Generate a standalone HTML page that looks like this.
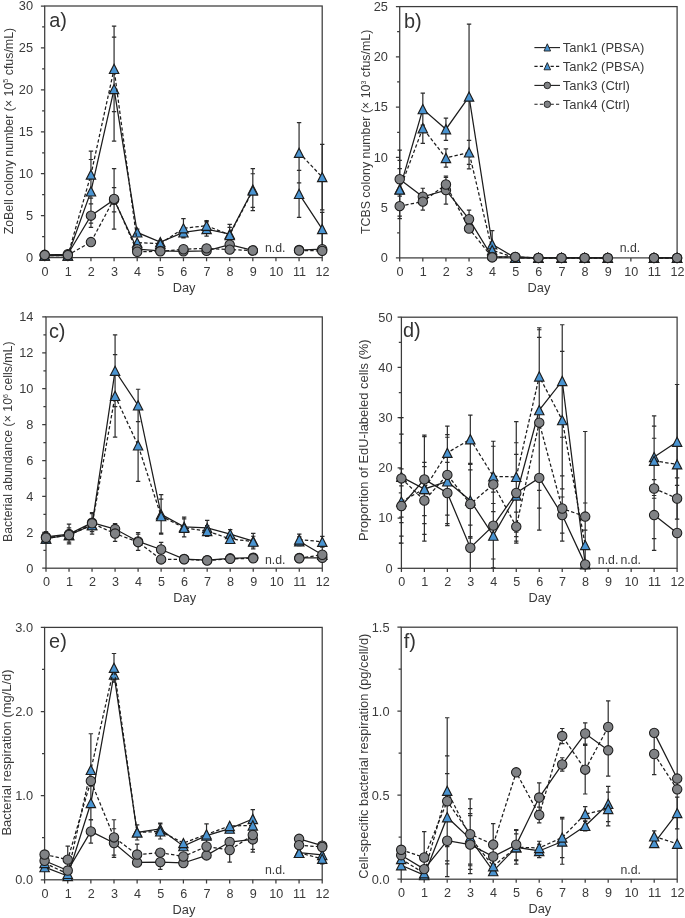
<!DOCTYPE html>
<html lang="en">
<head>
<meta charset="utf-8">
<title>Figure: bacterial dynamics in PBSA and control tanks</title>
<style>
html,body{margin:0;padding:0;background:#ffffff;}
body{width:685px;height:918px;overflow:hidden;font-family:"Liberation Sans",sans-serif;}
svg{display:block;will-change:transform;}
svg text{font-family:"Liberation Sans",sans-serif;}
</style>
</head>
<body>
<svg width="685" height="918" viewBox="0 0 685 918">
<g id="panel-a">
<g fill="none" stroke="#3c3c3c" stroke-width="1.25">
<rect x="44.7" y="6" width="277.5" height="251.6"/>
<path d="M44.7 257.6v3.6M67.83 257.6v3.6M90.95 257.6v3.6M114.08 257.6v3.6M137.2 257.6v3.6M160.32 257.6v3.6M183.45 257.6v3.6M206.57 257.6v3.6M229.7 257.6v3.6M252.82 257.6v3.6M275.95 257.6v3.6M299.07 257.6v3.6M322.2 257.6v3.6M44.7 257.6h-3.8M44.7 236.63h-2.6M44.7 215.67h-3.8M44.7 194.7h-2.6M44.7 173.73h-3.8M44.7 152.77h-2.6M44.7 131.8h-3.8M44.7 110.83h-2.6M44.7 89.87h-3.8M44.7 68.9h-2.6M44.7 47.93h-3.8M44.7 26.97h-2.6M44.7 6h-3.8"/>
</g>
<g fill="#3a3a3a" font-size="12.8">
<text transform="translate(45.1 275.6) scale(1 1.06)" text-anchor="middle" font-size="12.6">0</text>
<text transform="translate(68.23 275.6) scale(1 1.06)" text-anchor="middle" font-size="12.6">1</text>
<text transform="translate(91.35 275.6) scale(1 1.06)" text-anchor="middle" font-size="12.6">2</text>
<text transform="translate(114.48 275.6) scale(1 1.06)" text-anchor="middle" font-size="12.6">3</text>
<text transform="translate(137.6 275.6) scale(1 1.06)" text-anchor="middle" font-size="12.6">4</text>
<text transform="translate(160.72 275.6) scale(1 1.06)" text-anchor="middle" font-size="12.6">5</text>
<text transform="translate(183.85 275.6) scale(1 1.06)" text-anchor="middle" font-size="12.6">6</text>
<text transform="translate(206.97 275.6) scale(1 1.06)" text-anchor="middle" font-size="12.6">7</text>
<text transform="translate(230.1 275.6) scale(1 1.06)" text-anchor="middle" font-size="12.6">8</text>
<text transform="translate(253.22 275.6) scale(1 1.06)" text-anchor="middle" font-size="12.6">9</text>
<text transform="translate(276.35 275.6) scale(1 1.06)" text-anchor="middle" font-size="12.6">10</text>
<text transform="translate(299.47 275.6) scale(1 1.06)" text-anchor="middle" font-size="12.6">11</text>
<text transform="translate(322.6 275.6) scale(1 1.06)" text-anchor="middle" font-size="12.6">12</text>
<text x="184.05" y="291.5" text-anchor="middle">Day</text>
<text transform="translate(33 261.9) scale(1 1.06)" text-anchor="end">0</text>
<text transform="translate(33 219.97) scale(1 1.06)" text-anchor="end">5</text>
<text transform="translate(33 178.03) scale(1 1.06)" text-anchor="end">10</text>
<text transform="translate(33 136.1) scale(1 1.06)" text-anchor="end">15</text>
<text transform="translate(33 94.17) scale(1 1.06)" text-anchor="end">20</text>
<text transform="translate(33 52.23) scale(1 1.06)" text-anchor="end">25</text>
<text transform="translate(33 10.3) scale(1 1.06)" text-anchor="end">30</text>
<text transform="translate(12.5 131.1) rotate(-90)" text-anchor="middle" font-size="12.38">ZoBell colony number (× 10<tspan font-size="7.0" dy="-4.6">5</tspan><tspan dy="4.6" font-size="0.1"> </tspan><tspan> cfus/mL)</tspan></text>
<text x="49.2" y="27.3" font-size="19.9" fill="#333333">a)</text>
<text x="265" y="251.8" font-size="12.3">n.d.</text>
</g>
<path d="M90.95 159.48V223.21M88.75 159.48h4.4M88.75 223.21h4.4M114.08 37.03V141.03M111.88 37.03h4.4M111.88 141.03h4.4M137.2 229.09V235.79M135 229.09h4.4M135 235.79h4.4M183.45 227.41V237.47M181.25 227.41h4.4M181.25 237.47h4.4M206.57 221.96V236.21M204.38 221.96h4.4M204.38 236.21h4.4M229.7 224.47V243.76M227.5 224.47h4.4M227.5 243.76h4.4M252.82 168.7V210.63M250.62 168.7h4.4M250.62 210.63h4.4M299.07 170.38V217.34M296.88 170.38h4.4M296.88 217.34h4.4M322.2 212.31V245.86M320 212.31h4.4M320 245.86h4.4M90.95 151.09V198.05M88.75 151.09h4.4M88.75 198.05h4.4M114.08 26.13V111.67M111.88 26.13h4.4M111.88 111.67h4.4M183.45 218.6V237.89M181.25 218.6h4.4M181.25 237.89h4.4M206.57 220.7V230.76M204.38 220.7h4.4M204.38 230.76h4.4M229.7 227.41V242.5M227.5 227.41h4.4M227.5 242.5h4.4M252.82 173.73V207.28M250.62 173.73h4.4M250.62 207.28h4.4M299.07 122.57V182.96M296.88 122.57h4.4M296.88 182.96h4.4M322.2 144.38V209.8M320 144.38h4.4M320 209.8h4.4M90.95 203.93V227.41M88.75 203.93h4.4M88.75 227.41h4.4M114.08 187.57V211.89M111.88 187.57h4.4M111.88 211.89h4.4M114.08 168.7V229.09M111.88 168.7h4.4M111.88 229.09h4.4" fill="none" stroke="#2c2c2c" stroke-width="1.2"/>
<path d="M44.7 255.5L67.83 255.5L90.95 191.35L114.08 89.03L137.2 232.44L160.32 242.08L183.45 232.44L206.57 229.09L229.7 234.12L252.82 189.67M299.07 193.86L322.2 229.09" fill="none" stroke="#1c1c1c" stroke-width="1.25"/>
<g fill="#4a94d1" stroke="#1c1c1c" stroke-width="1.15">
<path d="M44.7 250.9L49.4 260.1L40 260.1Z"/>
<path d="M67.83 250.9L72.53 260.1L63.12 260.1Z"/>
<path d="M90.95 186.75L95.65 195.95L86.25 195.95Z"/>
<path d="M114.08 84.43L118.78 93.63L109.38 93.63Z"/>
<path d="M137.2 227.84L141.9 237.04L132.5 237.04Z"/>
<path d="M160.32 237.48L165.02 246.68L155.62 246.68Z"/>
<path d="M183.45 227.84L188.15 237.04L178.75 237.04Z"/>
<path d="M206.57 224.49L211.27 233.69L201.88 233.69Z"/>
<path d="M229.7 229.52L234.4 238.72L225 238.72Z"/>
<path d="M252.82 185.07L257.52 194.27L248.12 194.27Z"/>
<path d="M299.07 189.26L303.77 198.46L294.38 198.46Z"/>
<path d="M322.2 224.49L326.9 233.69L317.5 233.69Z"/>
</g>
<path d="M44.7 255.5L67.83 255.5L90.95 174.57L114.08 68.9L137.2 242.5L160.32 243.76L183.45 228.25L206.57 225.73L229.7 234.96L252.82 190.51M299.07 152.77L322.2 177.09" fill="none" stroke="#1c1c1c" stroke-width="1.25" stroke-dasharray="3.4 2.2"/>
<g fill="#4a94d1" stroke="#1c1c1c" stroke-width="1.15">
<path d="M44.7 250.9L49.4 260.1L40 260.1Z"/>
<path d="M67.83 250.9L72.53 260.1L63.12 260.1Z"/>
<path d="M90.95 169.97L95.65 179.17L86.25 179.17Z"/>
<path d="M114.08 64.3L118.78 73.5L109.38 73.5Z"/>
<path d="M137.2 237.9L141.9 247.1L132.5 247.1Z"/>
<path d="M160.32 239.16L165.02 248.36L155.62 248.36Z"/>
<path d="M183.45 223.65L188.15 232.85L178.75 232.85Z"/>
<path d="M206.57 221.13L211.27 230.33L201.88 230.33Z"/>
<path d="M229.7 230.36L234.4 239.56L225 239.56Z"/>
<path d="M252.82 185.91L257.52 195.11L248.12 195.11Z"/>
<path d="M299.07 148.17L303.77 157.37L294.38 157.37Z"/>
<path d="M322.2 172.49L326.9 181.69L317.5 181.69Z"/>
</g>
<path d="M44.7 254.83L67.83 254.25L90.95 215.67L114.08 199.73L137.2 249.21L160.32 250.89L183.45 251.31L206.57 250.89L229.7 244.6L252.82 250.47M299.07 250.05L322.2 249.21" fill="none" stroke="#1c1c1c" stroke-width="1.25"/>
<g fill="#808285" stroke="#1c1c1c" stroke-width="1.05">
<circle cx="44.7" cy="254.83" r="4.7"/>
<circle cx="67.83" cy="254.25" r="4.7"/>
<circle cx="90.95" cy="215.67" r="4.7"/>
<circle cx="114.08" cy="199.73" r="4.7"/>
<circle cx="137.2" cy="249.21" r="4.7"/>
<circle cx="160.32" cy="250.89" r="4.7"/>
<circle cx="183.45" cy="251.31" r="4.7"/>
<circle cx="206.57" cy="250.89" r="4.7"/>
<circle cx="229.7" cy="244.6" r="4.7"/>
<circle cx="252.82" cy="250.47" r="4.7"/>
<circle cx="299.07" cy="250.05" r="4.7"/>
<circle cx="322.2" cy="249.21" r="4.7"/>
</g>
<path d="M44.7 255.08L67.83 255.08L90.95 242.08L114.08 198.89L137.2 251.73L160.32 251.31L183.45 249.21L206.57 248.37L229.7 249.63L252.82 250.47M299.07 250.47L322.2 250.89" fill="none" stroke="#1c1c1c" stroke-width="1.25" stroke-dasharray="3.4 2.2"/>
<g fill="#808285" stroke="#1c1c1c" stroke-width="1.05">
<circle cx="44.7" cy="255.08" r="4.7"/>
<circle cx="67.83" cy="255.08" r="4.7"/>
<circle cx="90.95" cy="242.08" r="4.7"/>
<circle cx="114.08" cy="198.89" r="4.7"/>
<circle cx="137.2" cy="251.73" r="4.7"/>
<circle cx="160.32" cy="251.31" r="4.7"/>
<circle cx="183.45" cy="249.21" r="4.7"/>
<circle cx="206.57" cy="248.37" r="4.7"/>
<circle cx="229.7" cy="249.63" r="4.7"/>
<circle cx="252.82" cy="250.47" r="4.7"/>
<circle cx="299.07" cy="250.47" r="4.7"/>
<circle cx="322.2" cy="250.89" r="4.7"/>
</g>
</g>
<g id="panel-b">
<g fill="none" stroke="#3c3c3c" stroke-width="1.25">
<rect x="399.7" y="6.6" width="277.4" height="251.3"/>
<path d="M399.7 257.9v3.6M422.82 257.9v3.6M445.93 257.9v3.6M469.05 257.9v3.6M492.17 257.9v3.6M515.28 257.9v3.6M538.4 257.9v3.6M561.52 257.9v3.6M584.63 257.9v3.6M607.75 257.9v3.6M630.87 257.9v3.6M653.98 257.9v3.6M677.1 257.9v3.6M399.7 257.9h-3.8M399.7 232.77h-2.6M399.7 207.64h-3.8M399.7 182.51h-2.6M399.7 157.38h-3.8M399.7 132.25h-2.6M399.7 107.12h-3.8M399.7 81.99h-2.6M399.7 56.86h-3.8M399.7 31.73h-2.6M399.7 6.6h-3.8"/>
</g>
<g fill="#3a3a3a" font-size="12.8">
<text transform="translate(400.1 275.9) scale(1 1.06)" text-anchor="middle" font-size="12.6">0</text>
<text transform="translate(423.22 275.9) scale(1 1.06)" text-anchor="middle" font-size="12.6">1</text>
<text transform="translate(446.33 275.9) scale(1 1.06)" text-anchor="middle" font-size="12.6">2</text>
<text transform="translate(469.45 275.9) scale(1 1.06)" text-anchor="middle" font-size="12.6">3</text>
<text transform="translate(492.57 275.9) scale(1 1.06)" text-anchor="middle" font-size="12.6">4</text>
<text transform="translate(515.68 275.9) scale(1 1.06)" text-anchor="middle" font-size="12.6">5</text>
<text transform="translate(538.8 275.9) scale(1 1.06)" text-anchor="middle" font-size="12.6">6</text>
<text transform="translate(561.92 275.9) scale(1 1.06)" text-anchor="middle" font-size="12.6">7</text>
<text transform="translate(585.03 275.9) scale(1 1.06)" text-anchor="middle" font-size="12.6">8</text>
<text transform="translate(608.15 275.9) scale(1 1.06)" text-anchor="middle" font-size="12.6">9</text>
<text transform="translate(631.27 275.9) scale(1 1.06)" text-anchor="middle" font-size="12.6">10</text>
<text transform="translate(654.38 275.9) scale(1 1.06)" text-anchor="middle" font-size="12.6">11</text>
<text transform="translate(677.5 275.9) scale(1 1.06)" text-anchor="middle" font-size="12.6">12</text>
<text x="539" y="291.8" text-anchor="middle">Day</text>
<text transform="translate(387.9 262.2) scale(1 1.06)" text-anchor="end">0</text>
<text transform="translate(387.9 211.94) scale(1 1.06)" text-anchor="end">5</text>
<text transform="translate(387.9 161.68) scale(1 1.06)" text-anchor="end">10</text>
<text transform="translate(387.9 111.42) scale(1 1.06)" text-anchor="end">15</text>
<text transform="translate(387.9 61.16) scale(1 1.06)" text-anchor="end">20</text>
<text transform="translate(387.9 10.9) scale(1 1.06)" text-anchor="end">25</text>
<text transform="translate(370.2 131.9) rotate(-90)" text-anchor="middle" font-size="12.38">TCBS colony number (× 10<tspan font-size="7.0" dy="-4.6">3</tspan><tspan dy="4.6" font-size="0.1"> </tspan><tspan> cfus/mL)</tspan></text>
<text x="403.9" y="27.5" font-size="19.9" fill="#333333">b)</text>
<text x="619.7" y="251.6" font-size="12.3">n.d.</text>
</g>
<path d="M399.7 168.54V209.75M397.5 168.54h4.4M397.5 209.75h4.4M422.82 93.05V125.21M420.62 93.05h4.4M420.62 125.21h4.4M445.93 118.18V140.29M443.73 118.18h4.4M443.73 140.29h4.4M469.05 24.19V168.94M466.85 24.19h4.4M466.85 168.94h4.4M492.17 230.66V257.8M489.97 230.66h4.4M489.97 257.8h4.4M399.7 160.4V218.7M397.5 160.4h4.4M397.5 218.7h4.4M422.82 113.15V143.31M420.62 113.15h4.4M420.62 143.31h4.4M445.93 148.94V167.03M443.73 148.94h4.4M443.73 167.03h4.4M469.05 140.29V164.42M466.85 140.29h4.4M466.85 164.42h4.4M399.7 150.04V208.34M397.5 150.04h4.4M397.5 208.34h4.4M422.82 188.24V205.33M420.62 188.24h4.4M420.62 205.33h4.4M445.93 176.08V204.22M443.73 176.08h4.4M443.73 204.22h4.4M469.05 210.15V228.25M466.85 210.15h4.4M466.85 228.25h4.4M399.7 196.08V216.18M397.5 196.08h4.4M397.5 216.18h4.4M422.82 193.06V210.15M420.62 193.06h4.4M420.62 210.15h4.4M445.93 177.48V191.56M443.73 177.48h4.4M443.73 191.56h4.4" fill="none" stroke="#2c2c2c" stroke-width="1.2"/>
<path d="M399.7 189.14L422.82 109.13L445.93 129.23L469.05 96.57L492.17 244.23L515.28 257.9L538.4 257.9L561.52 257.9L584.63 257.9L607.75 257.9M653.98 257.9L677.1 257.9" fill="none" stroke="#1c1c1c" stroke-width="1.25"/>
<g fill="#4a94d1" stroke="#1c1c1c" stroke-width="1.15">
<path d="M399.7 184.54L404.4 193.74L395 193.74Z"/>
<path d="M422.82 104.53L427.52 113.73L418.12 113.73Z"/>
<path d="M445.93 124.63L450.63 133.83L441.23 133.83Z"/>
<path d="M469.05 91.97L473.75 101.17L464.35 101.17Z"/>
<path d="M492.17 239.63L496.87 248.83L487.47 248.83Z"/>
<path d="M515.28 253.3L519.98 262.5L510.58 262.5Z"/>
<path d="M538.4 253.3L543.1 262.5L533.7 262.5Z"/>
<path d="M561.52 253.3L566.22 262.5L556.82 262.5Z"/>
<path d="M584.63 253.3L589.33 262.5L579.93 262.5Z"/>
<path d="M607.75 253.3L612.45 262.5L603.05 262.5Z"/>
<path d="M653.98 253.3L658.68 262.5L649.28 262.5Z"/>
<path d="M677.1 253.3L681.8 262.5L672.4 262.5Z"/>
</g>
<path d="M399.7 189.55L422.82 128.23L445.93 157.98L469.05 152.35L492.17 250.16L515.28 257.9L538.4 257.9L561.52 257.9L584.63 257.9L607.75 257.9M653.98 257.9L677.1 257.9" fill="none" stroke="#1c1c1c" stroke-width="1.25" stroke-dasharray="3.4 2.2"/>
<g fill="#4a94d1" stroke="#1c1c1c" stroke-width="1.15">
<path d="M399.7 184.95L404.4 194.15L395 194.15Z"/>
<path d="M422.82 123.63L427.52 132.83L418.12 132.83Z"/>
<path d="M445.93 153.38L450.63 162.58L441.23 162.58Z"/>
<path d="M469.05 147.75L473.75 156.95L464.35 156.95Z"/>
<path d="M492.17 245.56L496.87 254.76L487.47 254.76Z"/>
<path d="M515.28 253.3L519.98 262.5L510.58 262.5Z"/>
<path d="M538.4 253.3L543.1 262.5L533.7 262.5Z"/>
<path d="M561.52 253.3L566.22 262.5L556.82 262.5Z"/>
<path d="M584.63 253.3L589.33 262.5L579.93 262.5Z"/>
<path d="M607.75 253.3L612.45 262.5L603.05 262.5Z"/>
<path d="M653.98 253.3L658.68 262.5L649.28 262.5Z"/>
<path d="M677.1 253.3L681.8 262.5L672.4 262.5Z"/>
</g>
<path d="M399.7 179.19L422.82 196.78L445.93 190.15L469.05 219.2L492.17 256.89L515.28 256.89L538.4 257.9L561.52 257.9L584.63 257.9L607.75 257.9M653.98 257.9L677.1 257.9" fill="none" stroke="#1c1c1c" stroke-width="1.25"/>
<g fill="#808285" stroke="#1c1c1c" stroke-width="1.05">
<circle cx="399.7" cy="179.19" r="4.7"/>
<circle cx="422.82" cy="196.78" r="4.7"/>
<circle cx="445.93" cy="190.15" r="4.7"/>
<circle cx="469.05" cy="219.2" r="4.7"/>
<circle cx="492.17" cy="256.89" r="4.7"/>
<circle cx="515.28" cy="256.89" r="4.7"/>
<circle cx="538.4" cy="257.9" r="4.7"/>
<circle cx="561.52" cy="257.9" r="4.7"/>
<circle cx="584.63" cy="257.9" r="4.7"/>
<circle cx="607.75" cy="257.9" r="4.7"/>
<circle cx="653.98" cy="257.9" r="4.7"/>
<circle cx="677.1" cy="257.9" r="4.7"/>
</g>
<path d="M399.7 206.13L422.82 201.61L445.93 184.52L469.05 228.55L492.17 257.4L515.28 256.89L538.4 257.9L561.52 257.9L584.63 257.9L607.75 257.9M653.98 257.9L677.1 257.9" fill="none" stroke="#1c1c1c" stroke-width="1.25" stroke-dasharray="3.4 2.2"/>
<g fill="#808285" stroke="#1c1c1c" stroke-width="1.05">
<circle cx="399.7" cy="206.13" r="4.7"/>
<circle cx="422.82" cy="201.61" r="4.7"/>
<circle cx="445.93" cy="184.52" r="4.7"/>
<circle cx="469.05" cy="228.55" r="4.7"/>
<circle cx="492.17" cy="257.4" r="4.7"/>
<circle cx="515.28" cy="256.89" r="4.7"/>
<circle cx="538.4" cy="257.9" r="4.7"/>
<circle cx="561.52" cy="257.9" r="4.7"/>
<circle cx="584.63" cy="257.9" r="4.7"/>
<circle cx="607.75" cy="257.9" r="4.7"/>
<circle cx="653.98" cy="257.9" r="4.7"/>
<circle cx="677.1" cy="257.9" r="4.7"/>
</g>
</g>
<g id="panel-c">
<g fill="none" stroke="#3c3c3c" stroke-width="1.25">
<rect x="46" y="316.9" width="276.3" height="251.3"/>
<path d="M46 568.2v3.6M69.03 568.2v3.6M92.05 568.2v3.6M115.08 568.2v3.6M138.1 568.2v3.6M161.12 568.2v3.6M184.15 568.2v3.6M207.18 568.2v3.6M230.2 568.2v3.6M253.23 568.2v3.6M276.25 568.2v3.6M299.28 568.2v3.6M322.3 568.2v3.6M46 568.2h-3.8M46 550.25h-2.6M46 532.3h-3.8M46 514.35h-2.6M46 496.4h-3.8M46 478.45h-2.6M46 460.5h-3.8M46 442.55h-2.6M46 424.6h-3.8M46 406.65h-2.6M46 388.7h-3.8M46 370.75h-2.6M46 352.8h-3.8M46 334.85h-2.6M46 316.9h-3.8"/>
</g>
<g fill="#3a3a3a" font-size="12.8">
<text transform="translate(46.4 586.2) scale(1 1.06)" text-anchor="middle" font-size="12.6">0</text>
<text transform="translate(69.43 586.2) scale(1 1.06)" text-anchor="middle" font-size="12.6">1</text>
<text transform="translate(92.45 586.2) scale(1 1.06)" text-anchor="middle" font-size="12.6">2</text>
<text transform="translate(115.48 586.2) scale(1 1.06)" text-anchor="middle" font-size="12.6">3</text>
<text transform="translate(138.5 586.2) scale(1 1.06)" text-anchor="middle" font-size="12.6">4</text>
<text transform="translate(161.53 586.2) scale(1 1.06)" text-anchor="middle" font-size="12.6">5</text>
<text transform="translate(184.55 586.2) scale(1 1.06)" text-anchor="middle" font-size="12.6">6</text>
<text transform="translate(207.58 586.2) scale(1 1.06)" text-anchor="middle" font-size="12.6">7</text>
<text transform="translate(230.6 586.2) scale(1 1.06)" text-anchor="middle" font-size="12.6">8</text>
<text transform="translate(253.63 586.2) scale(1 1.06)" text-anchor="middle" font-size="12.6">9</text>
<text transform="translate(276.65 586.2) scale(1 1.06)" text-anchor="middle" font-size="12.6">10</text>
<text transform="translate(299.68 586.2) scale(1 1.06)" text-anchor="middle" font-size="12.6">11</text>
<text transform="translate(322.7 586.2) scale(1 1.06)" text-anchor="middle" font-size="12.6">12</text>
<text x="184.75" y="602.1" text-anchor="middle">Day</text>
<text transform="translate(33.4 572.5) scale(1 1.06)" text-anchor="end">0</text>
<text transform="translate(33.4 536.6) scale(1 1.06)" text-anchor="end">2</text>
<text transform="translate(33.4 500.7) scale(1 1.06)" text-anchor="end">4</text>
<text transform="translate(33.4 464.8) scale(1 1.06)" text-anchor="end">6</text>
<text transform="translate(33.4 428.9) scale(1 1.06)" text-anchor="end">8</text>
<text transform="translate(33.4 393) scale(1 1.06)" text-anchor="end">10</text>
<text transform="translate(33.4 357.1) scale(1 1.06)" text-anchor="end">12</text>
<text transform="translate(33.4 321.2) scale(1 1.06)" text-anchor="end">14</text>
<text transform="translate(12.4 441.7) rotate(-90)" text-anchor="middle" font-size="12.3">Bacterial abundance (× 10<tspan font-size="7.0" dy="-4.6">6</tspan><tspan dy="4.6" font-size="0.1"> </tspan><tspan> cells/mL)</tspan></text>
<text x="48.9" y="337.6" font-size="19.9" fill="#333333">c)</text>
<text x="265" y="563.5" font-size="12.3">n.d.</text>
</g>
<path d="M115.08 334.85V406.65M112.88 334.85h4.4M112.88 406.65h4.4M138.1 389.24V421.55M135.9 389.24h4.4M135.9 421.55h4.4M161.12 494.61V534.1M158.93 494.61h4.4M158.93 534.1h4.4M184.15 517.04V536.79M181.95 517.04h4.4M181.95 536.79h4.4M207.18 520.45V535.53M204.98 520.45h4.4M204.98 535.53h4.4M230.2 529.61V538.58M228 529.61h4.4M228 538.58h4.4M253.23 533.38V548.81M251.03 533.38h4.4M251.03 548.81h4.4M299.28 536.79V545.76M297.08 536.79h4.4M297.08 545.76h4.4M322.3 551.15V558.33M320.1 551.15h4.4M320.1 558.33h4.4M115.08 354.6V437.16M112.88 354.6h4.4M112.88 437.16h4.4M138.1 409.52V481.32M135.9 409.52h4.4M135.9 481.32h4.4M161.12 499.09V533.2M158.93 499.09h4.4M158.93 533.2h4.4M184.15 518.84V536.79M181.95 518.84h4.4M181.95 536.79h4.4M207.18 525.66V536.43M204.98 525.66h4.4M204.98 536.43h4.4M230.2 535.35V542.53M228 535.35h4.4M228 542.53h4.4M253.23 536.25V547.02M251.03 536.25h4.4M251.03 547.02h4.4M299.28 534.1V544.87M297.08 534.1h4.4M297.08 544.87h4.4M322.3 536.43V547.2M320.1 536.43h4.4M320.1 547.2h4.4M46 531.58V542.35M43.8 531.58h4.4M43.8 542.35h4.4M69.03 524.22V543.97M66.83 524.22h4.4M66.83 543.97h4.4M92.05 513.63V531.58M89.85 513.63h4.4M89.85 531.58h4.4M115.08 523.68V534.45M112.88 523.68h4.4M112.88 534.45h4.4M138.1 532.48V550.43M135.9 532.48h4.4M135.9 550.43h4.4M161.12 542.35V556.71M158.93 542.35h4.4M158.93 556.71h4.4M46 532.3V543.07M43.8 532.3h4.4M43.8 543.07h4.4M69.03 527.81V542.17M66.83 527.81h4.4M66.83 542.17h4.4M92.05 512.56V534.1M89.85 512.56h4.4M89.85 534.1h4.4M115.08 525.84V541.28M112.88 525.84h4.4M112.88 541.28h4.4M138.1 534.1V550.25M135.9 534.1h4.4M135.9 550.25h4.4" fill="none" stroke="#2c2c2c" stroke-width="1.2"/>
<path d="M46 538.58L69.03 534.99L92.05 525.12L115.08 370.75L138.1 405.39L161.12 514.35L184.15 526.92L207.18 527.99L230.2 534.1L253.23 541.1M299.28 541.28L322.3 554.74" fill="none" stroke="#1c1c1c" stroke-width="1.25"/>
<g fill="#4a94d1" stroke="#1c1c1c" stroke-width="1.15">
<path d="M46 533.98L50.7 543.18L41.3 543.18Z"/>
<path d="M69.03 530.39L73.73 539.59L64.33 539.59Z"/>
<path d="M92.05 520.52L96.75 529.72L87.35 529.72Z"/>
<path d="M115.08 366.15L119.78 375.35L110.38 375.35Z"/>
<path d="M138.1 400.79L142.8 409.99L133.4 409.99Z"/>
<path d="M161.12 509.75L165.82 518.95L156.43 518.95Z"/>
<path d="M184.15 522.32L188.85 531.52L179.45 531.52Z"/>
<path d="M207.18 523.39L211.88 532.59L202.48 532.59Z"/>
<path d="M230.2 529.5L234.9 538.7L225.5 538.7Z"/>
<path d="M253.23 536.5L257.93 545.7L248.53 545.7Z"/>
<path d="M299.28 536.68L303.98 545.88L294.58 545.88Z"/>
<path d="M322.3 550.14L327 559.34L317.6 559.34Z"/>
</g>
<path d="M46 538.58L69.03 534.99L92.05 525.12L115.08 395.88L138.1 445.42L161.12 516.14L184.15 527.81L207.18 531.04L230.2 538.94L253.23 541.63M299.28 539.48L322.3 541.81" fill="none" stroke="#1c1c1c" stroke-width="1.25" stroke-dasharray="3.4 2.2"/>
<g fill="#4a94d1" stroke="#1c1c1c" stroke-width="1.15">
<path d="M46 533.98L50.7 543.18L41.3 543.18Z"/>
<path d="M69.03 530.39L73.73 539.59L64.33 539.59Z"/>
<path d="M92.05 520.52L96.75 529.72L87.35 529.72Z"/>
<path d="M115.08 391.28L119.78 400.48L110.38 400.48Z"/>
<path d="M138.1 440.82L142.8 450.02L133.4 450.02Z"/>
<path d="M161.12 511.54L165.82 520.75L156.43 520.75Z"/>
<path d="M184.15 523.21L188.85 532.41L179.45 532.41Z"/>
<path d="M207.18 526.44L211.88 535.64L202.48 535.64Z"/>
<path d="M230.2 534.34L234.9 543.54L225.5 543.54Z"/>
<path d="M253.23 537.03L257.93 546.23L248.53 546.23Z"/>
<path d="M299.28 534.88L303.98 544.08L294.58 544.08Z"/>
<path d="M322.3 537.21L327 546.41L317.6 546.41Z"/>
</g>
<path d="M46 536.97L69.03 534.1L92.05 522.61L115.08 529.07L138.1 541.45L161.12 549.53L184.15 559.05L207.18 560.12L230.2 558.33L253.23 557.61M299.28 557.97L322.3 557.79" fill="none" stroke="#1c1c1c" stroke-width="1.25"/>
<g fill="#808285" stroke="#1c1c1c" stroke-width="1.05">
<circle cx="46" cy="536.97" r="4.7"/>
<circle cx="69.03" cy="534.1" r="4.7"/>
<circle cx="92.05" cy="522.61" r="4.7"/>
<circle cx="115.08" cy="529.07" r="4.7"/>
<circle cx="138.1" cy="541.45" r="4.7"/>
<circle cx="161.12" cy="549.53" r="4.7"/>
<circle cx="184.15" cy="559.05" r="4.7"/>
<circle cx="207.18" cy="560.12" r="4.7"/>
<circle cx="230.2" cy="558.33" r="4.7"/>
<circle cx="253.23" cy="557.61" r="4.7"/>
<circle cx="299.28" cy="557.97" r="4.7"/>
<circle cx="322.3" cy="557.79" r="4.7"/>
</g>
<path d="M46 537.69L69.03 534.99L92.05 523.33L115.08 533.56L138.1 542.17L161.12 559.4L184.15 559.23L207.18 560.48L230.2 558.87L253.23 558.33M299.28 558.33L322.3 554.74" fill="none" stroke="#1c1c1c" stroke-width="1.25" stroke-dasharray="3.4 2.2"/>
<g fill="#808285" stroke="#1c1c1c" stroke-width="1.05">
<circle cx="46" cy="537.69" r="4.7"/>
<circle cx="69.03" cy="534.99" r="4.7"/>
<circle cx="92.05" cy="523.33" r="4.7"/>
<circle cx="115.08" cy="533.56" r="4.7"/>
<circle cx="138.1" cy="542.17" r="4.7"/>
<circle cx="161.12" cy="559.4" r="4.7"/>
<circle cx="184.15" cy="559.23" r="4.7"/>
<circle cx="207.18" cy="560.48" r="4.7"/>
<circle cx="230.2" cy="558.87" r="4.7"/>
<circle cx="253.23" cy="558.33" r="4.7"/>
<circle cx="299.28" cy="558.33" r="4.7"/>
<circle cx="322.3" cy="554.74" r="4.7"/>
</g>
</g>
<g id="panel-d">
<g fill="none" stroke="#3c3c3c" stroke-width="1.25">
<rect x="401.4" y="317.2" width="275.7" height="251.1"/>
<path d="M401.4 568.3v3.6M424.38 568.3v3.6M447.35 568.3v3.6M470.32 568.3v3.6M493.3 568.3v3.6M516.27 568.3v3.6M539.25 568.3v3.6M562.23 568.3v3.6M585.2 568.3v3.6M608.17 568.3v3.6M631.15 568.3v3.6M654.12 568.3v3.6M677.1 568.3v3.6M401.4 568.3h-3.8M401.4 543.19h-2.6M401.4 518.08h-3.8M401.4 492.97h-2.6M401.4 467.86h-3.8M401.4 442.75h-2.6M401.4 417.64h-3.8M401.4 392.53h-2.6M401.4 367.42h-3.8M401.4 342.31h-2.6M401.4 317.2h-3.8"/>
</g>
<g fill="#3a3a3a" font-size="12.8">
<text transform="translate(401.8 586.3) scale(1 1.06)" text-anchor="middle" font-size="12.6">0</text>
<text transform="translate(424.77 586.3) scale(1 1.06)" text-anchor="middle" font-size="12.6">1</text>
<text transform="translate(447.75 586.3) scale(1 1.06)" text-anchor="middle" font-size="12.6">2</text>
<text transform="translate(470.72 586.3) scale(1 1.06)" text-anchor="middle" font-size="12.6">3</text>
<text transform="translate(493.7 586.3) scale(1 1.06)" text-anchor="middle" font-size="12.6">4</text>
<text transform="translate(516.67 586.3) scale(1 1.06)" text-anchor="middle" font-size="12.6">5</text>
<text transform="translate(539.65 586.3) scale(1 1.06)" text-anchor="middle" font-size="12.6">6</text>
<text transform="translate(562.62 586.3) scale(1 1.06)" text-anchor="middle" font-size="12.6">7</text>
<text transform="translate(585.6 586.3) scale(1 1.06)" text-anchor="middle" font-size="12.6">8</text>
<text transform="translate(608.57 586.3) scale(1 1.06)" text-anchor="middle" font-size="12.6">9</text>
<text transform="translate(631.55 586.3) scale(1 1.06)" text-anchor="middle" font-size="12.6">10</text>
<text transform="translate(654.52 586.3) scale(1 1.06)" text-anchor="middle" font-size="12.6">11</text>
<text transform="translate(677.5 586.3) scale(1 1.06)" text-anchor="middle" font-size="12.6">12</text>
<text x="539.85" y="602.2" text-anchor="middle">Day</text>
<text transform="translate(392.5 572.6) scale(1 1.06)" text-anchor="end">0</text>
<text transform="translate(392.5 522.38) scale(1 1.06)" text-anchor="end">10</text>
<text transform="translate(392.5 472.16) scale(1 1.06)" text-anchor="end">20</text>
<text transform="translate(392.5 421.94) scale(1 1.06)" text-anchor="end">30</text>
<text transform="translate(392.5 371.72) scale(1 1.06)" text-anchor="end">40</text>
<text transform="translate(392.5 321.5) scale(1 1.06)" text-anchor="end">50</text>
<text transform="translate(367.8 440.3) rotate(-90)" text-anchor="middle" font-size="12.92">Proportion of EdU-labeled cells (%)</text>
<text x="403" y="337.2" font-size="19.9" fill="#333333">d)</text>
<text x="597.8" y="564" font-size="12.3">n.d.</text>
<text x="620.4" y="564" font-size="12.3">n.d.</text>
</g>
<path d="M401.4 417.64V536.16M399.2 417.64h4.4M399.2 536.16h4.4M424.38 436.72V541.18M422.18 436.72h4.4M422.18 541.18h4.4M447.35 437.23V525.61M445.15 437.23h4.4M445.15 525.61h4.4M470.32 464.34V536.66M468.12 464.34h4.4M468.12 536.66h4.4M493.3 503.52V567.8M491.1 503.52h4.4M491.1 567.8h4.4M516.27 454.3V536.66M514.07 454.3h4.4M514.07 536.66h4.4M539.25 329.75V490.46M537.05 329.75h4.4M537.05 490.46h4.4M562.23 324.73V437.23M560.02 324.73h4.4M560.02 437.23h4.4M654.12 415.88V498.24M651.92 415.88h4.4M651.92 498.24h4.4M677.1 384.49V499M674.9 384.49h4.4M674.9 499h4.4M401.4 485.94V517.08M399.2 485.94h4.4M399.2 517.08h4.4M424.38 462.34V515.57M422.18 462.34h4.4M422.18 515.57h4.4M447.35 426.18V479.41M445.15 426.18h4.4M445.15 479.41h4.4M470.32 415.13V463.34M468.12 415.13h4.4M468.12 463.34h4.4M493.3 441.24V511.55M491.1 441.24h4.4M491.1 511.55h4.4M516.27 421.66V532.14M514.07 421.66h4.4M514.07 532.14h4.4M539.25 327.75V425.17M537.05 327.75h4.4M537.05 425.17h4.4M562.23 351.35V488.95M560.02 351.35h4.4M560.02 488.95h4.4M585.2 431.5V568.3M583 431.5h4.4M654.12 426.18V495.48M651.92 426.18h4.4M651.92 495.48h4.4M677.1 443.25V485.44M674.9 443.25h4.4M674.9 485.44h4.4M401.4 468.86V543.19M399.2 468.86h4.4M399.2 543.19h4.4M424.38 435.22V523.6M422.18 435.22h4.4M422.18 523.6h4.4M447.35 462.34V523.6M445.15 462.34h4.4M445.15 523.6h4.4M470.32 525.11V568.3M468.12 525.11h4.4M493.3 492.22V559.01M491.1 492.22h4.4M491.1 559.01h4.4M516.27 442.75V543.19M514.07 442.75h4.4M514.07 543.19h4.4M539.25 425.68V530.13M537.05 425.68h4.4M537.05 530.13h4.4M562.23 496.99V533.15M560.02 496.99h4.4M560.02 533.15h4.4M654.12 479.66V550.47M651.92 479.66h4.4M651.92 550.47h4.4M401.4 434.21V522.6M399.2 434.21h4.4M399.2 522.6h4.4M424.38 466.6V534.4M422.18 466.6h4.4M422.18 534.4h4.4M447.35 434.71V515.07M445.15 434.71h4.4M445.15 515.07h4.4M470.32 469.87V538.17M468.12 469.87h4.4M468.12 538.17h4.4M493.3 446.27V522.6M491.1 446.27h4.4M491.1 522.6h4.4M516.27 512.05V541.18M514.07 512.05h4.4M514.07 541.18h4.4M539.25 337.29V508.04M537.05 337.29h4.4M537.05 508.04h4.4M562.23 475.9V541.18M560.02 475.9h4.4M560.02 541.18h4.4M585.2 503.01V530.13M583 503.01h4.4M583 530.13h4.4M654.12 438.23V538.67M651.92 438.23h4.4M651.92 538.67h4.4M677.1 477.9V519.08M674.9 477.9h4.4M674.9 519.08h4.4" fill="none" stroke="#2c2c2c" stroke-width="1.2"/>
<path d="M401.4 476.9L424.38 488.95L447.35 481.42L470.32 500.5L493.3 535.66L516.27 495.48L539.25 410.11L562.23 380.98L585.2 564.28M654.12 457.06L677.1 441.75" fill="none" stroke="#1c1c1c" stroke-width="1.25"/>
<g fill="#4a94d1" stroke="#1c1c1c" stroke-width="1.15">
<path d="M401.4 472.3L406.1 481.5L396.7 481.5Z"/>
<path d="M424.38 484.35L429.07 493.55L419.68 493.55Z"/>
<path d="M447.35 476.82L452.05 486.02L442.65 486.02Z"/>
<path d="M470.32 495.9L475.02 505.1L465.62 505.1Z"/>
<path d="M493.3 531.06L498 540.26L488.6 540.26Z"/>
<path d="M516.27 490.88L520.98 500.08L511.57 500.08Z"/>
<path d="M539.25 405.51L543.95 414.71L534.55 414.71Z"/>
<path d="M562.23 376.38L566.93 385.58L557.52 385.58Z"/>
<path d="M585.2 559.68L589.9 568.88L580.5 568.88Z"/>
<path d="M654.12 452.46L658.83 461.66L649.42 461.66Z"/>
<path d="M677.1 437.15L681.8 446.35L672.4 446.35Z"/>
</g>
<path d="M401.4 501.51L424.38 488.95L447.35 452.79L470.32 439.23L493.3 476.4L516.27 476.9L539.25 376.46L562.23 420.15L585.2 545M654.12 460.83L677.1 464.34" fill="none" stroke="#1c1c1c" stroke-width="1.25" stroke-dasharray="3.4 2.2"/>
<g fill="#4a94d1" stroke="#1c1c1c" stroke-width="1.15">
<path d="M401.4 496.91L406.1 506.11L396.7 506.11Z"/>
<path d="M424.38 484.35L429.07 493.55L419.68 493.55Z"/>
<path d="M447.35 448.19L452.05 457.39L442.65 457.39Z"/>
<path d="M470.32 434.63L475.02 443.83L465.62 443.83Z"/>
<path d="M493.3 471.8L498 481L488.6 481Z"/>
<path d="M516.27 472.3L520.98 481.5L511.57 481.5Z"/>
<path d="M539.25 371.86L543.95 381.06L534.55 381.06Z"/>
<path d="M562.23 415.55L566.93 424.75L557.52 424.75Z"/>
<path d="M585.2 540.4L589.9 549.6L580.5 549.6Z"/>
<path d="M654.12 456.23L658.83 465.43L649.42 465.43Z"/>
<path d="M677.1 459.74L681.8 468.94L672.4 468.94Z"/>
</g>
<path d="M401.4 506.03L424.38 479.41L447.35 492.97L470.32 547.71L493.3 525.61L516.27 492.97L539.25 477.9L562.23 515.07L585.2 564.38M654.12 515.07L677.1 532.95" fill="none" stroke="#1c1c1c" stroke-width="1.25"/>
<g fill="#808285" stroke="#1c1c1c" stroke-width="1.05">
<circle cx="401.4" cy="506.03" r="4.7"/>
<circle cx="424.38" cy="479.41" r="4.7"/>
<circle cx="447.35" cy="492.97" r="4.7"/>
<circle cx="470.32" cy="547.71" r="4.7"/>
<circle cx="493.3" cy="525.61" r="4.7"/>
<circle cx="516.27" cy="492.97" r="4.7"/>
<circle cx="539.25" cy="477.9" r="4.7"/>
<circle cx="562.23" cy="515.07" r="4.7"/>
<circle cx="585.2" cy="564.38" r="4.7"/>
<circle cx="654.12" cy="515.07" r="4.7"/>
<circle cx="677.1" cy="532.95" r="4.7"/>
</g>
<path d="M401.4 478.41L424.38 500.5L447.35 474.89L470.32 504.02L493.3 484.43L516.27 526.62L539.25 422.66L562.23 508.54L585.2 516.57M654.12 488.45L677.1 498.49" fill="none" stroke="#1c1c1c" stroke-width="1.25" stroke-dasharray="3.4 2.2"/>
<g fill="#808285" stroke="#1c1c1c" stroke-width="1.05">
<circle cx="401.4" cy="478.41" r="4.7"/>
<circle cx="424.38" cy="500.5" r="4.7"/>
<circle cx="447.35" cy="474.89" r="4.7"/>
<circle cx="470.32" cy="504.02" r="4.7"/>
<circle cx="493.3" cy="484.43" r="4.7"/>
<circle cx="516.27" cy="526.62" r="4.7"/>
<circle cx="539.25" cy="422.66" r="4.7"/>
<circle cx="562.23" cy="508.54" r="4.7"/>
<circle cx="585.2" cy="516.57" r="4.7"/>
<circle cx="654.12" cy="488.45" r="4.7"/>
<circle cx="677.1" cy="498.49" r="4.7"/>
</g>
</g>
<g id="panel-e">
<g fill="none" stroke="#3c3c3c" stroke-width="1.25">
<rect x="44.6" y="627.4" width="277.6" height="252.4"/>
<path d="M44.6 879.8v3.6M67.73 879.8v3.6M90.87 879.8v3.6M114 879.8v3.6M137.13 879.8v3.6M160.27 879.8v3.6M183.4 879.8v3.6M206.53 879.8v3.6M229.67 879.8v3.6M252.8 879.8v3.6M275.93 879.8v3.6M299.07 879.8v3.6M322.2 879.8v3.6M44.6 879.8h-3.8M44.6 837.73h-2.6M44.6 795.67h-3.8M44.6 753.6h-2.6M44.6 711.53h-3.8M44.6 669.47h-2.6M44.6 627.4h-3.8"/>
</g>
<g fill="#3a3a3a" font-size="12.8">
<text transform="translate(45 897.8) scale(1 1.06)" text-anchor="middle" font-size="12.6">0</text>
<text transform="translate(68.13 897.8) scale(1 1.06)" text-anchor="middle" font-size="12.6">1</text>
<text transform="translate(91.27 897.8) scale(1 1.06)" text-anchor="middle" font-size="12.6">2</text>
<text transform="translate(114.4 897.8) scale(1 1.06)" text-anchor="middle" font-size="12.6">3</text>
<text transform="translate(137.53 897.8) scale(1 1.06)" text-anchor="middle" font-size="12.6">4</text>
<text transform="translate(160.67 897.8) scale(1 1.06)" text-anchor="middle" font-size="12.6">5</text>
<text transform="translate(183.8 897.8) scale(1 1.06)" text-anchor="middle" font-size="12.6">6</text>
<text transform="translate(206.93 897.8) scale(1 1.06)" text-anchor="middle" font-size="12.6">7</text>
<text transform="translate(230.07 897.8) scale(1 1.06)" text-anchor="middle" font-size="12.6">8</text>
<text transform="translate(253.2 897.8) scale(1 1.06)" text-anchor="middle" font-size="12.6">9</text>
<text transform="translate(276.33 897.8) scale(1 1.06)" text-anchor="middle" font-size="12.6">10</text>
<text transform="translate(299.47 897.8) scale(1 1.06)" text-anchor="middle" font-size="12.6">11</text>
<text transform="translate(322.6 897.8) scale(1 1.06)" text-anchor="middle" font-size="12.6">12</text>
<text x="184" y="913.7" text-anchor="middle">Day</text>
<text transform="translate(33 884.1) scale(1 1.06)" text-anchor="end">0.0</text>
<text transform="translate(33 799.97) scale(1 1.06)" text-anchor="end">1.0</text>
<text transform="translate(33 715.83) scale(1 1.06)" text-anchor="end">2.0</text>
<text transform="translate(33 631.7) scale(1 1.06)" text-anchor="end">3.0</text>
<text transform="translate(10.6 752.5) rotate(-90)" text-anchor="middle" font-size="12.95">Bacterial respiration (mg/L/d)</text>
<text x="49.1" y="648.1" font-size="19.9" fill="#333333">e)</text>
<text x="265" y="873.7" font-size="12.3">n.d.</text>
</g>
<path d="M90.87 786.16V819.81M88.67 786.16h4.4M88.67 819.81h4.4M137.13 824.86V840M134.93 824.86h4.4M134.93 840h4.4M160.27 823.09V834.87M158.07 823.09h4.4M158.07 834.87h4.4M206.53 823.85V847.41M204.33 823.85h4.4M204.33 847.41h4.4M252.8 809.72V828.23M250.6 809.72h4.4M250.6 828.23h4.4M90.87 733.74V806.1M88.67 733.74h4.4M88.67 806.1h4.4M114 653.48V682.09M111.8 653.48h4.4M111.8 682.09h4.4M160.27 823.85V839M158.07 823.85h4.4M158.07 839h4.4M322.2 853.72V863.81M320 853.72h4.4M320 863.81h4.4M90.87 819.64V843.2M88.67 819.64h4.4M88.67 843.2h4.4M114 828.73V857.34M111.8 828.73h4.4M111.8 857.34h4.4M160.27 854.98V869.28M158.07 854.98h4.4M158.07 869.28h4.4M252.8 826.8V852.04M250.6 826.8h4.4M250.6 852.04h4.4M67.73 846.15V873.07M65.53 846.15h4.4M65.53 873.07h4.4M114 819.73V855.06M111.8 819.73h4.4M111.8 855.06h4.4M137.13 844.04V865.08M134.93 844.04h4.4M134.93 865.08h4.4M229.67 837.82V862.22M227.47 837.82h4.4M227.47 862.22h4.4M252.8 820.74V849.34M250.6 820.74h4.4M250.6 849.34h4.4" fill="none" stroke="#2c2c2c" stroke-width="1.2"/>
<path d="M44.6 867.18L67.73 876.01L90.87 802.99L114 674.51L137.13 832.43L160.27 828.98L183.4 846.15L206.53 835.63L229.67 828.65L252.8 818.97M299.07 852.71L322.2 854.98" fill="none" stroke="#1c1c1c" stroke-width="1.25"/>
<g fill="#4a94d1" stroke="#1c1c1c" stroke-width="1.15">
<path d="M44.6 862.58L49.3 871.78L39.9 871.78Z"/>
<path d="M67.73 871.41L72.43 880.61L63.03 880.61Z"/>
<path d="M90.87 798.39L95.57 807.59L86.17 807.59Z"/>
<path d="M114 669.91L118.7 679.11L109.3 679.11Z"/>
<path d="M137.13 827.83L141.83 837.03L132.43 837.03Z"/>
<path d="M160.27 824.38L164.97 833.58L155.57 833.58Z"/>
<path d="M183.4 841.55L188.1 850.75L178.7 850.75Z"/>
<path d="M206.53 831.03L211.23 840.23L201.83 840.23Z"/>
<path d="M229.67 824.05L234.37 833.25L224.97 833.25Z"/>
<path d="M252.8 814.37L257.5 823.57L248.1 823.57Z"/>
<path d="M299.07 848.11L303.77 857.31L294.37 857.31Z"/>
<path d="M322.2 850.38L326.9 859.58L317.5 859.58Z"/>
</g>
<path d="M44.6 862.97L67.73 873.91L90.87 769.92L114 667.78L137.13 832.43L160.27 831.42L183.4 843.03L206.53 834.37L229.67 825.95L252.8 825.45M299.07 852.88L322.2 858.77" fill="none" stroke="#1c1c1c" stroke-width="1.25" stroke-dasharray="3.4 2.2"/>
<g fill="#4a94d1" stroke="#1c1c1c" stroke-width="1.15">
<path d="M44.6 858.37L49.3 867.57L39.9 867.57Z"/>
<path d="M67.73 869.31L72.43 878.51L63.03 878.51Z"/>
<path d="M90.87 765.32L95.57 774.52L86.17 774.52Z"/>
<path d="M114 663.18L118.7 672.38L109.3 672.38Z"/>
<path d="M137.13 827.83L141.83 837.03L132.43 837.03Z"/>
<path d="M160.27 826.82L164.97 836.02L155.57 836.02Z"/>
<path d="M183.4 838.43L188.1 847.63L178.7 847.63Z"/>
<path d="M206.53 829.77L211.23 838.97L201.83 838.97Z"/>
<path d="M229.67 821.35L234.37 830.55L224.97 830.55Z"/>
<path d="M252.8 820.85L257.5 830.05L248.1 830.05Z"/>
<path d="M299.07 848.28L303.77 857.48L294.37 857.48Z"/>
<path d="M322.2 854.17L326.9 863.37L317.5 863.37Z"/>
</g>
<path d="M44.6 860.7L67.73 870.55L90.87 831.42L114 843.03L137.13 862.47L160.27 862.13L183.4 862.97L206.53 855.4L229.67 842.02L252.8 839.42M299.07 838.83L322.2 845.64" fill="none" stroke="#1c1c1c" stroke-width="1.25"/>
<g fill="#808285" stroke="#1c1c1c" stroke-width="1.05">
<circle cx="44.6" cy="860.7" r="4.7"/>
<circle cx="67.73" cy="870.55" r="4.7"/>
<circle cx="90.87" cy="831.42" r="4.7"/>
<circle cx="114" cy="843.03" r="4.7"/>
<circle cx="137.13" cy="862.47" r="4.7"/>
<circle cx="160.27" cy="862.13" r="4.7"/>
<circle cx="183.4" cy="862.97" r="4.7"/>
<circle cx="206.53" cy="855.4" r="4.7"/>
<circle cx="229.67" cy="842.02" r="4.7"/>
<circle cx="252.8" cy="839.42" r="4.7"/>
<circle cx="299.07" cy="838.83" r="4.7"/>
<circle cx="322.2" cy="845.64" r="4.7"/>
</g>
<path d="M44.6 854.56L67.73 859.61L90.87 780.94L114 837.4L137.13 854.56L160.27 852.62L183.4 856.5L206.53 846.48L229.67 850.02L252.8 835.04M299.07 845.14L322.2 846.99" fill="none" stroke="#1c1c1c" stroke-width="1.25" stroke-dasharray="3.4 2.2"/>
<g fill="#808285" stroke="#1c1c1c" stroke-width="1.05">
<circle cx="44.6" cy="854.56" r="4.7"/>
<circle cx="67.73" cy="859.61" r="4.7"/>
<circle cx="90.87" cy="780.94" r="4.7"/>
<circle cx="114" cy="837.4" r="4.7"/>
<circle cx="137.13" cy="854.56" r="4.7"/>
<circle cx="160.27" cy="852.62" r="4.7"/>
<circle cx="183.4" cy="856.5" r="4.7"/>
<circle cx="206.53" cy="846.48" r="4.7"/>
<circle cx="229.67" cy="850.02" r="4.7"/>
<circle cx="252.8" cy="835.04" r="4.7"/>
<circle cx="299.07" cy="845.14" r="4.7"/>
<circle cx="322.2" cy="846.99" r="4.7"/>
</g>
</g>
<g id="panel-f">
<g fill="none" stroke="#3c3c3c" stroke-width="1.25">
<rect x="401.2" y="627.2" width="276" height="252"/>
<path d="M401.2 879.2v3.6M424.2 879.2v3.6M447.2 879.2v3.6M470.2 879.2v3.6M493.2 879.2v3.6M516.2 879.2v3.6M539.2 879.2v3.6M562.2 879.2v3.6M585.2 879.2v3.6M608.2 879.2v3.6M631.2 879.2v3.6M654.2 879.2v3.6M677.2 879.2v3.6M401.2 879.2h-3.8M401.2 837.2h-2.6M401.2 795.2h-3.8M401.2 753.2h-2.6M401.2 711.2h-3.8M401.2 669.2h-2.6M401.2 627.2h-3.8"/>
</g>
<g fill="#3a3a3a" font-size="12.8">
<text transform="translate(401.6 897.2) scale(1 1.06)" text-anchor="middle" font-size="12.6">0</text>
<text transform="translate(424.6 897.2) scale(1 1.06)" text-anchor="middle" font-size="12.6">1</text>
<text transform="translate(447.6 897.2) scale(1 1.06)" text-anchor="middle" font-size="12.6">2</text>
<text transform="translate(470.6 897.2) scale(1 1.06)" text-anchor="middle" font-size="12.6">3</text>
<text transform="translate(493.6 897.2) scale(1 1.06)" text-anchor="middle" font-size="12.6">4</text>
<text transform="translate(516.6 897.2) scale(1 1.06)" text-anchor="middle" font-size="12.6">5</text>
<text transform="translate(539.6 897.2) scale(1 1.06)" text-anchor="middle" font-size="12.6">6</text>
<text transform="translate(562.6 897.2) scale(1 1.06)" text-anchor="middle" font-size="12.6">7</text>
<text transform="translate(585.6 897.2) scale(1 1.06)" text-anchor="middle" font-size="12.6">8</text>
<text transform="translate(608.6 897.2) scale(1 1.06)" text-anchor="middle" font-size="12.6">9</text>
<text transform="translate(631.6 897.2) scale(1 1.06)" text-anchor="middle" font-size="12.6">10</text>
<text transform="translate(654.6 897.2) scale(1 1.06)" text-anchor="middle" font-size="12.6">11</text>
<text transform="translate(677.6 897.2) scale(1 1.06)" text-anchor="middle" font-size="12.6">12</text>
<text x="539.8" y="913.1" text-anchor="middle">Day</text>
<text transform="translate(389.5 883.5) scale(1 1.06)" text-anchor="end">0.0</text>
<text transform="translate(389.5 799.5) scale(1 1.06)" text-anchor="end">0.5</text>
<text transform="translate(389.5 715.5) scale(1 1.06)" text-anchor="end">1.0</text>
<text transform="translate(389.5 631.5) scale(1 1.06)" text-anchor="end">1.5</text>
<text transform="translate(367.8 756.2) rotate(-90)" text-anchor="middle" font-size="12.87">Cell-specific bacterial respiration (pg/cell/d)</text>
<text x="403.7" y="647.8" font-size="19.9" fill="#333333">f)</text>
<text x="620.5" y="874" font-size="12.3">n.d.</text>
</g>
<path d="M447.2 773.53V860.89M445 773.53h4.4M445 860.89h4.4M470.2 813.68V864.08M468 813.68h4.4M468 864.08h4.4M516.2 830.48V864.08M514 830.48h4.4M514 864.08h4.4M539.2 844.26V857.7M537 844.26h4.4M537 857.7h4.4M562.2 818.89V864.25M560 818.89h4.4M560 864.25h4.4M585.2 820.9V830.98M583 820.9h4.4M583 830.98h4.4M608.2 786.3V821.58M606 786.3h4.4M606 821.58h4.4M677.2 797.05V828.97M675 797.05h4.4M675 828.97h4.4M447.2 717.75V863.91M445 717.75h4.4M445 863.91h4.4M470.2 808.64V865.76M468 808.64h4.4M468 865.76h4.4M493.2 857.86V874.66M491 857.86h4.4M491 874.66h4.4M516.2 833.84V860.72M514 833.84h4.4M514 860.72h4.4M539.2 841.23V854.67M537 841.23h4.4M537 854.67h4.4M562.2 817.38V857.7M560 817.38h4.4M560 857.7h4.4M585.2 806.62V821.41M583 806.62h4.4M583 821.41h4.4M608.2 792.18V825.78M606 792.18h4.4M606 825.78h4.4M654.2 830.82V841.9M652 830.82h4.4M652 841.9h4.4M447.2 804.78V876.68M445 804.78h4.4M445 876.68h4.4M470.2 815.53V873.66M468 815.53h4.4M468 873.66h4.4M516.2 829.64V859.88M514 829.64h4.4M514 859.88h4.4M539.2 782.94V812.17M537 782.94h4.4M537 812.17h4.4M562.2 757.74V771.18M560 757.74h4.4M560 771.18h4.4M585.2 722.96V744.13M583 722.96h4.4M583 744.13h4.4M608.2 724.64V776.05M606 724.64h4.4M606 776.05h4.4M424.2 831.66V879.2M422 831.66h4.4M447.2 755.89V846.61M445 755.89h4.4M445 846.61h4.4M470.2 798.9V869.46M468 798.9h4.4M468 869.46h4.4M493.2 823.59V865.59M491 823.59h4.4M491 865.59h4.4M539.2 807.13V822.92M537 807.13h4.4M537 822.92h4.4M562.2 728.5V743.62M560 728.5h4.4M560 743.62h4.4M585.2 745.3V794.02M583 745.3h4.4M583 794.02h4.4M608.2 700.95V753.03M606 700.95h4.4M606 753.03h4.4M654.2 733.54V774.54M652 733.54h4.4M652 774.54h4.4" fill="none" stroke="#2c2c2c" stroke-width="1.2"/>
<path d="M401.2 865.26L424.2 875.17L447.2 817.21L470.2 838.88L493.2 871.14L516.2 847.28L539.2 850.98L562.2 841.57L585.2 825.94L608.2 803.94M654.2 843.08L677.2 813.01" fill="none" stroke="#1c1c1c" stroke-width="1.25"/>
<g fill="#4a94d1" stroke="#1c1c1c" stroke-width="1.15">
<path d="M401.2 860.66L405.9 869.86L396.5 869.86Z"/>
<path d="M424.2 870.57L428.9 879.77L419.5 879.77Z"/>
<path d="M447.2 812.61L451.9 821.81L442.5 821.81Z"/>
<path d="M470.2 834.28L474.9 843.48L465.5 843.48Z"/>
<path d="M493.2 866.54L497.9 875.74L488.5 875.74Z"/>
<path d="M516.2 842.68L520.9 851.88L511.5 851.88Z"/>
<path d="M539.2 846.38L543.9 855.58L534.5 855.58Z"/>
<path d="M562.2 836.97L566.9 846.17L557.5 846.17Z"/>
<path d="M585.2 821.34L589.9 830.54L580.5 830.54Z"/>
<path d="M608.2 799.34L612.9 808.54L603.5 808.54Z"/>
<path d="M654.2 838.48L658.9 847.68L649.5 847.68Z"/>
<path d="M677.2 808.41L681.9 817.61L672.5 817.61Z"/>
</g>
<path d="M401.2 859.04L424.2 873.32L447.2 790.83L470.2 837.2L493.2 866.26L516.2 847.28L539.2 847.95L562.2 837.54L585.2 814.02L608.2 808.98M654.2 836.36L677.2 843.75" fill="none" stroke="#1c1c1c" stroke-width="1.25" stroke-dasharray="3.4 2.2"/>
<g fill="#4a94d1" stroke="#1c1c1c" stroke-width="1.15">
<path d="M401.2 854.44L405.9 863.64L396.5 863.64Z"/>
<path d="M424.2 868.72L428.9 877.92L419.5 877.92Z"/>
<path d="M447.2 786.23L451.9 795.43L442.5 795.43Z"/>
<path d="M470.2 832.6L474.9 841.8L465.5 841.8Z"/>
<path d="M493.2 861.66L497.9 870.86L488.5 870.86Z"/>
<path d="M516.2 842.68L520.9 851.88L511.5 851.88Z"/>
<path d="M539.2 843.35L543.9 852.55L534.5 852.55Z"/>
<path d="M562.2 832.94L566.9 842.14L557.5 842.14Z"/>
<path d="M585.2 809.42L589.9 818.62L580.5 818.62Z"/>
<path d="M608.2 804.38L612.9 813.58L603.5 813.58Z"/>
<path d="M654.2 831.76L658.9 840.96L649.5 840.96Z"/>
<path d="M677.2 839.15L681.9 848.35L672.5 848.35Z"/>
</g>
<path d="M401.2 855.18L424.2 869.12L447.2 840.73L470.2 844.59L493.2 856.52L516.2 844.76L539.2 797.55L562.2 764.46L585.2 733.54L608.2 750.34M654.2 732.87L677.2 778.57" fill="none" stroke="#1c1c1c" stroke-width="1.25"/>
<g fill="#808285" stroke="#1c1c1c" stroke-width="1.05">
<circle cx="401.2" cy="855.18" r="4.7"/>
<circle cx="424.2" cy="869.12" r="4.7"/>
<circle cx="447.2" cy="840.73" r="4.7"/>
<circle cx="470.2" cy="844.59" r="4.7"/>
<circle cx="493.2" cy="856.52" r="4.7"/>
<circle cx="516.2" cy="844.76" r="4.7"/>
<circle cx="539.2" cy="797.55" r="4.7"/>
<circle cx="562.2" cy="764.46" r="4.7"/>
<circle cx="585.2" cy="733.54" r="4.7"/>
<circle cx="608.2" cy="750.34" r="4.7"/>
<circle cx="654.2" cy="732.87" r="4.7"/>
<circle cx="677.2" cy="778.57" r="4.7"/>
</g>
<path d="M401.2 849.8L424.2 857.53L447.2 801.25L470.2 834.18L493.2 844.59L516.2 772.35L539.2 815.02L562.2 736.06L585.2 769.66L608.2 726.99M654.2 754.04L677.2 789.32" fill="none" stroke="#1c1c1c" stroke-width="1.25" stroke-dasharray="3.4 2.2"/>
<g fill="#808285" stroke="#1c1c1c" stroke-width="1.05">
<circle cx="401.2" cy="849.8" r="4.7"/>
<circle cx="424.2" cy="857.53" r="4.7"/>
<circle cx="447.2" cy="801.25" r="4.7"/>
<circle cx="470.2" cy="834.18" r="4.7"/>
<circle cx="493.2" cy="844.59" r="4.7"/>
<circle cx="516.2" cy="772.35" r="4.7"/>
<circle cx="539.2" cy="815.02" r="4.7"/>
<circle cx="562.2" cy="736.06" r="4.7"/>
<circle cx="585.2" cy="769.66" r="4.7"/>
<circle cx="608.2" cy="726.99" r="4.7"/>
<circle cx="654.2" cy="754.04" r="4.7"/>
<circle cx="677.2" cy="789.32" r="4.7"/>
</g>
</g>
<g id="legend">
<path d="M534.4 47.6H560" fill="none" stroke="#1c1c1c" stroke-width="1.1"/>
<g fill="#4a94d1" stroke="#1c1c1c" stroke-width="0.9"><path d="M547.3 43.8L550.6 51L544 51Z"/></g>
<text transform="translate(562.8 52.1) scale(1 1.05)" font-size="13" fill="#3a3a3a">Tank1 (PBSA)</text>
<path d="M534.4 66.4H560" fill="none" stroke="#1c1c1c" stroke-width="1.1" stroke-dasharray="3.2 2.2"/>
<g fill="#4a94d1" stroke="#1c1c1c" stroke-width="0.9"><path d="M547.3 62.6L550.6 69.8L544 69.8Z"/></g>
<text transform="translate(562.8 70.9) scale(1 1.05)" font-size="13" fill="#3a3a3a">Tank2 (PBSA)</text>
<path d="M534.4 85.4H560" fill="none" stroke="#1c1c1c" stroke-width="1.1"/>
<circle cx="547.3" cy="85.4" r="3.3" fill="#808285" stroke="#1c1c1c" stroke-width="0.9"/>
<text transform="translate(562.8 89.9) scale(1 1.05)" font-size="13" fill="#3a3a3a">Tank3 (Ctrl)</text>
<path d="M534.4 104.3H560" fill="none" stroke="#1c1c1c" stroke-width="1.1" stroke-dasharray="3.2 2.2"/>
<circle cx="547.3" cy="104.3" r="3.3" fill="#808285" stroke="#1c1c1c" stroke-width="0.9"/>
<text transform="translate(562.8 108.8) scale(1 1.05)" font-size="13" fill="#3a3a3a">Tank4 (Ctrl)</text>
</g>
</svg>
</body>
</html>
